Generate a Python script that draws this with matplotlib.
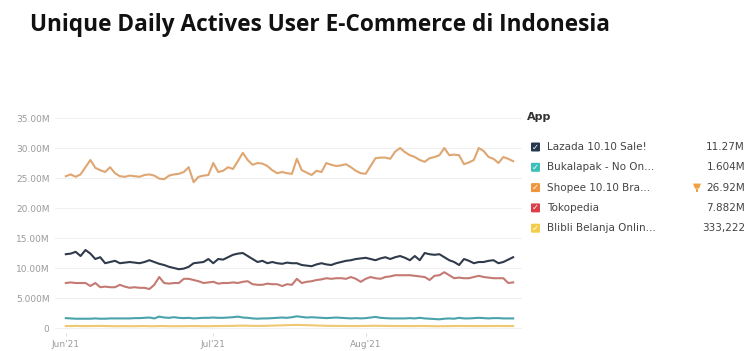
import numpy as np
import matplotlib.pyplot as plt
from matplotlib.patches import FancyBboxPatch, Rectangle, Polygon

# Daily unique actives, 1 Jun - 31 Aug 2021 (millions)
days = np.arange(92)
tick_pos = [0, 30, 61]
tick_labels = ["Jun'21", "Jul'21", "Aug'21"]

y_ticks = [0, 5, 10, 15, 20, 25, 30, 35]
y_labels = ["0", "5.000M", "10.00M", "15.00M", "20.00M", "25.00M", "30.00M", "35.00M"]

shopee = [25.3, 25.6, 25.2, 25.6, 26.8, 28.0, 26.7, 26.3, 26.0, 26.8,
          25.8, 25.3, 25.2, 25.4, 25.3, 25.2, 25.5, 25.6, 25.4, 24.9,
          24.8, 25.4, 25.6, 25.7, 26.0, 26.8, 24.3, 25.2, 25.4, 25.5,
          27.5, 26.0, 26.2, 26.8, 26.5, 27.8, 29.2, 28.0, 27.2, 27.5,
          27.4, 27.0, 26.3, 25.8, 26.0, 25.8, 25.7, 28.2, 26.3, 25.9,
          25.5, 26.2, 26.0, 27.5, 27.2, 27.0, 27.1, 27.3, 26.8, 26.2,
          25.8, 25.7, 27.0, 28.3, 28.4, 28.4, 28.2, 29.4, 30.0, 29.3,
          28.8, 28.5, 28.0, 27.7, 28.3, 28.5, 28.8, 30.0, 28.8, 28.9,
          28.8, 27.3, 27.6, 28.0, 30.0, 29.5, 28.5, 28.2, 27.5, 28.5,
          28.2, 27.8]

lazada = [12.3, 12.4, 12.7, 12.0, 13.0, 12.4, 11.5, 11.8, 10.8, 11.0,
          11.2, 10.8, 10.9, 11.0, 10.9, 10.8, 11.0, 11.3, 11.0, 10.7,
          10.5, 10.2, 10.0, 9.8, 9.9, 10.2, 10.8, 10.9, 11.0, 11.5,
          10.8, 11.5, 11.4, 11.8, 12.2, 12.4, 12.5, 12.0, 11.5, 11.0,
          11.2, 10.8, 11.0, 10.8, 10.7, 10.9, 10.8, 10.8, 10.5, 10.4,
          10.3, 10.6, 10.8, 10.6, 10.5, 10.8, 11.0, 11.2, 11.3, 11.5,
          11.6, 11.7, 11.5, 11.3, 11.6, 11.8, 11.5, 11.8, 12.0, 11.7,
          11.3, 12.0, 11.3, 12.5, 12.3, 12.2, 12.3, 11.8, 11.3, 11.0,
          10.5, 11.5, 11.2, 10.8, 11.0, 11.0, 11.2, 11.3, 10.8, 11.0,
          11.4, 11.8]

tokopedia = [7.5, 7.6, 7.5, 7.5, 7.5, 7.0, 7.5, 6.8, 6.9, 6.8,
             6.8, 7.2, 6.9, 6.7, 6.8, 6.7, 6.7, 6.5, 7.2, 8.5,
             7.5, 7.4, 7.5, 7.5, 8.2, 8.2, 8.0, 7.8, 7.5, 7.6,
             7.7, 7.4, 7.5, 7.5, 7.6, 7.5, 7.7, 7.8, 7.3, 7.2,
             7.2, 7.4, 7.3, 7.3, 7.0, 7.3, 7.2, 8.2, 7.5, 7.7,
             7.8, 8.0, 8.1, 8.3, 8.2, 8.3, 8.3, 8.2, 8.5, 8.2,
             7.7, 8.2, 8.5, 8.3, 8.2, 8.5, 8.6, 8.8, 8.8, 8.8,
             8.8, 8.7, 8.6, 8.5, 8.0, 8.7, 8.8, 9.3, 8.8, 8.3,
             8.4, 8.3, 8.3, 8.5, 8.7, 8.5, 8.4, 8.3, 8.3, 8.3,
             7.5, 7.6]

bukalapak = [1.65, 1.6, 1.55, 1.55, 1.55, 1.55, 1.6, 1.55, 1.55, 1.6,
             1.6, 1.6, 1.6, 1.6, 1.65, 1.65, 1.7, 1.75, 1.6, 1.9,
             1.75, 1.7, 1.8, 1.7, 1.65, 1.7, 1.6, 1.65, 1.7, 1.7,
             1.75, 1.7, 1.7, 1.75, 1.8, 1.9, 1.75, 1.7, 1.6, 1.55,
             1.6, 1.6, 1.65, 1.7, 1.75, 1.7, 1.8, 1.95, 1.85, 1.75,
             1.8, 1.75, 1.7, 1.65, 1.7, 1.75, 1.7, 1.65, 1.6, 1.65,
             1.6, 1.65, 1.75, 1.85, 1.7, 1.65, 1.6, 1.6, 1.6, 1.6,
             1.65, 1.6, 1.7, 1.6, 1.55, 1.5, 1.45, 1.55, 1.6, 1.55,
             1.7, 1.6, 1.6, 1.65, 1.7, 1.65, 1.6, 1.65, 1.65, 1.6,
             1.6, 1.6]

blibli = [0.33, 0.33, 0.35, 0.33, 0.32, 0.33, 0.34, 0.35, 0.33, 0.32,
          0.3, 0.3, 0.31, 0.3, 0.3, 0.32, 0.33, 0.3, 0.3, 0.32,
          0.33, 0.3, 0.3, 0.3, 0.31, 0.32, 0.33, 0.32, 0.3, 0.3,
          0.32, 0.33, 0.34, 0.35, 0.36, 0.38, 0.4, 0.38, 0.36, 0.35,
          0.36, 0.38, 0.4, 0.42, 0.45, 0.48, 0.5, 0.52, 0.5, 0.48,
          0.45, 0.42, 0.4, 0.38, 0.36, 0.35, 0.35, 0.34, 0.33, 0.33,
          0.34, 0.35, 0.36, 0.38, 0.36, 0.35, 0.34, 0.33, 0.33, 0.33,
          0.32, 0.33, 0.34, 0.33, 0.32, 0.3, 0.3, 0.31, 0.32, 0.33,
          0.34, 0.33, 0.33, 0.33, 0.32, 0.33, 0.33, 0.33, 0.34, 0.33,
          0.33, 0.33]

apps = ["Lazada 10.10 Sale!", "Bukalapak - No On...", "Shopee 10.10 Bra...",
        "Tokopedia", "Blibli Belanja Onlin..."]
totals = ["11.27M", "1.604M", "26.92M", "7.882M", "333,222"]
series = [lazada, bukalapak, shopee, tokopedia, blibli]
line_colors = ["#2f3b4c", "#4aa3aa", "#dfa672", "#c47a72", "#eec872"]
box_colors = ["#263850", "#3dbfb8", "#f0953c", "#d9404a", "#f2cc4a"]

fig = plt.figure(figsize=(7.47, 3.51), dpi=100)
fig.patch.set_facecolor("white")

fig.text(30 / 747, 1 - 25 / 351, "Unique Daily Actives User E-Commerce di Indonesia",
         fontsize=16.3, fontweight="bold", family="Open Sans", color="#111111",
         va="center", ha="left")

ax = fig.add_axes([55 / 747, 18 / 351, 467 / 747, 218 / 351])
for vals, col in zip(series, line_colors):
    ax.plot(days, vals, color=col, lw=1.5, solid_joinstyle="round")

ax.set_xlim(-2.2, 92.8)
ax.set_ylim(-0.83, 35.5)
ax.set_yticks(y_ticks)
ax.set_yticklabels(y_labels)
ax.set_xticks(tick_pos)
ax.set_xticklabels(tick_labels)
ax.tick_params(axis="both", labelsize=6.5, colors="#9a9a9a", length=0, pad=4)
ax.tick_params(axis="x", length=2, color="#dddddd", pad=3)
ax.grid(axis="y", color="#f0f0f0", lw=0.8)
ax.set_axisbelow(True)
for s in ax.spines.values():
    s.set_visible(False)

# legend panel
fig.text(527 / 747, 1 - 117 / 351, "App", fontsize=8, fontweight="bold",
         color="#333333", va="center", ha="left")
for i, (name, tot, bc) in enumerate(zip(apps, totals, box_colors)):
    yc = 1 - (147 + i * 20.3) / 351
    box = FancyBboxPatch((531 / 747, yc - 4.5 / 351), 9 / 747, 9 / 351,
                         boxstyle="round,pad=0,rounding_size=0.002",
                         transform=fig.transFigure, facecolor=bc, edgecolor="none")
    fig.patches.append(box)
    fig.text(535.5 / 747, yc, "\u2713", fontsize=6, color="white", fontweight="bold",
             ha="center", va="center")
    fig.text(547 / 747, yc, name, fontsize=7.5, color="#444444",
             va="center", ha="left")
    fig.text(745 / 747, yc, tot, fontsize=7.5, color="#444444",
             va="center", ha="right")

# small trophy next to the Shopee total
yc = 1 - (147 + 2 * 20.3) / 351
cup = Polygon([[693 / 747, yc + 4 / 351], [701 / 747, yc + 4 / 351],
               [699 / 747, yc - 1 / 351], [695 / 747, yc - 1 / 351]],
              closed=True, transform=fig.transFigure, facecolor="#f0a040", edgecolor="none")
stem = Rectangle((696 / 747, yc - 4 / 351), 2 / 747, 3 / 351,
                 transform=fig.transFigure, facecolor="#f0a040", edgecolor="none")
fig.patches.extend([cup, stem])

fig.savefig("out.png", dpi=100)
